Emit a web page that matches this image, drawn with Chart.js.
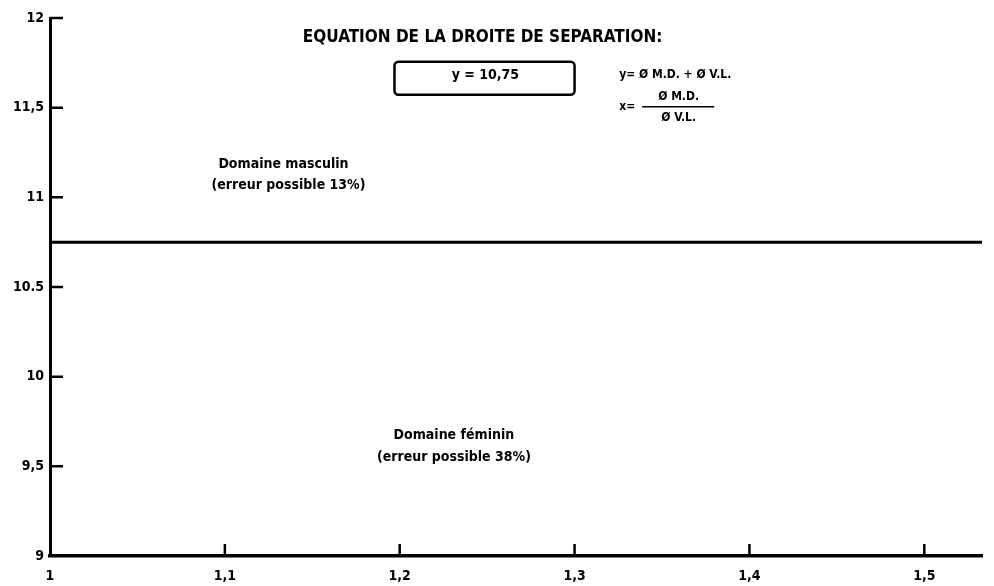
<!DOCTYPE html>
<html>
<head>
<meta charset="utf-8">
<script src="https://cdn.jsdelivr.net/npm/chart.js@4"></script>
<style>
  html, body { margin: 0; padding: 0; background: #fff; }
  #wrap { width: 994px; height: 586px; }
</style>
</head>
<body>
<div id="wrap"><canvas id="chart"></canvas></div>
<script>
const xTicks = [1, 1.1, 1.2, 1.3, 1.4, 1.5];
const xTickLabels = ["1", "1,1", "1,2", "1,3", "1,4", "1,5"];
const yTicks = [9, 9.5, 10, 10.5, 11, 11.5, 12];
const yTickLabels = ["9", "9,5", "10", "10.5", "11", "11,5", "12"];

const lineX = [1, 1.533];
const lineY = [10.75, 10.75];

const font = "'DejaVu Sans Condensed', 'Liberation Sans Narrow', 'DejaVu Sans', sans-serif";

// texte posé en coordonnées des axes
const notes = [
    { text: "EQUATION DE LA DROITE DE SEPARATION:", x: 1.2474, y: 11.89, size: 17, align: "center" },
    { text: "y = 10,75", x: 1.249, y: 11.68, size: 14, align: "center" },
    { text: "y= Ø M.D. + Ø V.L.", x: 1.3255, y: 11.683, size: 12, align: "left" },
    { text: "x=", x: 1.3255, y: 11.505, size: 12, align: "left" },
    { text: "Ø M.D.", x: 1.3595, y: 11.56, size: 12, align: "center" },
    { text: "Ø V.L.", x: 1.3595, y: 11.445, size: 12, align: "center" },
    { text: "Domaine masculin", x: 1.1335, y: 11.183, size: 14, align: "center" },
    { text: "(erreur possible 13%)", x: 1.1364, y: 11.065, size: 14, align: "center" },
    { text: "Domaine féminin", x: 1.231, y: 9.672, size: 14, align: "center" },
    { text: "(erreur possible 38%)", x: 1.231, y: 9.55, size: 14, align: "center" },
];

const box = { x1: 1.197, x2: 1.300, y1: 11.756, y2: 11.572 };
const fractionBar = { x1: 1.3386, x2: 1.3799, y: 11.505 };

const decorations = {
    id: "decorations",
    afterDraw(chart) {
        const { ctx, scales: { x, y } } = chart;
        ctx.save();
        ctx.strokeStyle = "#000";
        ctx.fillStyle = "#000";

        // petits traits vers l'intérieur
        ctx.lineWidth = 2.5;
        ctx.beginPath();
        xTicks.slice(1).forEach((v) => {
            const px = x.getPixelForValue(v);
            ctx.moveTo(px, y.bottom);
            ctx.lineTo(px, y.bottom - 12);
        });
        yTicks.slice(1).forEach((v) => {
            const py = y.getPixelForValue(v);
            ctx.moveTo(x.left, py);
            ctx.lineTo(x.left + 13, py);
        });
        ctx.stroke();

        // cadre arrondi
        const bx1 = x.getPixelForValue(box.x1);
        const bx2 = x.getPixelForValue(box.x2);
        const by1 = y.getPixelForValue(box.y1);
        const by2 = y.getPixelForValue(box.y2);
        ctx.lineWidth = 2.5;
        ctx.beginPath();
        ctx.roundRect(bx1, by1, bx2 - bx1, by2 - by1, 4);
        ctx.stroke();

        // barre de fraction
        ctx.lineWidth = 1.5;
        ctx.beginPath();
        ctx.moveTo(x.getPixelForValue(fractionBar.x1), y.getPixelForValue(fractionBar.y));
        ctx.lineTo(x.getPixelForValue(fractionBar.x2), y.getPixelForValue(fractionBar.y));
        ctx.stroke();

        ctx.textBaseline = "middle";
        notes.forEach((n) => {
            ctx.font = `bold ${n.size}px ${font}`;
            ctx.textAlign = n.align;
            ctx.fillText(n.text, x.getPixelForValue(n.x), y.getPixelForValue(n.y));
        });
        ctx.restore();
    },
};

new Chart(document.getElementById("chart"), {
    type: "line",
    data: {
        datasets: [
            {
                data: lineX.map((v, i) => ({ x: v, y: lineY[i] })),
                borderColor: "#000",
                borderWidth: 3,
                pointRadius: 0,
            },
        ],
    },
    options: {
        responsive: true,
        maintainAspectRatio: false,
        animation: false,
        layout: { padding: { top: 18, right: 12, left: 0, bottom: 0 } },
        plugins: { legend: { display: false }, tooltip: { enabled: false } },
        scales: {
            x: {
                type: "linear",
                min: 1,
                max: 1.533,
                afterBuildTicks: (scale) => {
                    scale.ticks = xTicks.map((v) => ({ value: v }));
                },
                afterFit: (scale) => {
                    scale.height = 30;
                },
                ticks: {
                    color: "#000",
                    padding: 12,
                    font: { family: font, size: 14, weight: "bold" },
                    callback: (v) => xTickLabels[xTicks.indexOf(v)],
                },
                grid: { display: false, drawTicks: false },
                border: { display: true, color: "#000", width: 3.5 },
            },
            y: {
                type: "linear",
                min: 9,
                max: 12,
                afterBuildTicks: (scale) => {
                    scale.ticks = yTicks.map((v) => ({ value: v }));
                },
                afterFit: (scale) => {
                    scale.width = 50;
                },
                ticks: {
                    color: "#000",
                    padding: 6,
                    font: { family: font, size: 14, weight: "bold" },
                    callback: (v) => yTickLabels[yTicks.indexOf(v)],
                },
                grid: { display: false, drawTicks: false },
                border: { display: true, color: "#000", width: 3 },
            },
        },
    },
    plugins: [decorations],
});
</script>
</body>
</html>
